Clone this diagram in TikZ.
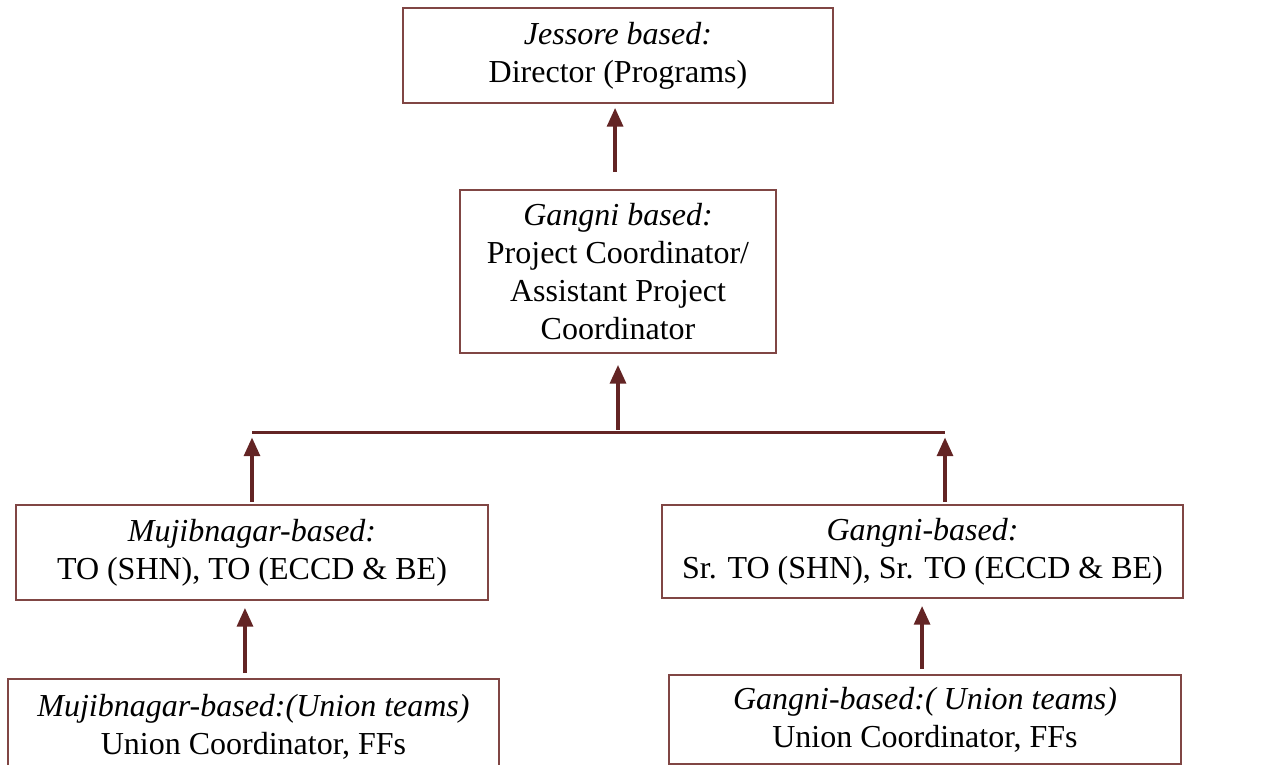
\documentclass[tikz,border=0pt]{standalone}
\usepackage{fontspec}
\setmainfont{Liberation Serif}
\usetikzlibrary{arrows.meta}
\definecolor{OrgFrame}{RGB}{128,70,68}
\definecolor{OrgInk}{RGB}{99,36,36}
\tikzset{
    org/diagram/.style={
        font=\fontsize{12}{14.2}\selectfont,
        line cap=butt,
        every node/.style={inner sep=2pt, outer sep=0pt}
    },
    org/box/.style={draw=OrgFrame, line width=0.6pt, align=center},
    org/link/.style={
        draw=OrgInk, line width=1.2pt,
        -{Triangle[length=7pt, width=6pt]}
    },
    org/bar/.style={draw=OrgInk, line width=0.85pt}
}
\begin{document}
\begin{tikzpicture}[org/diagram, x=0.375pt, y=-0.375pt]
    \useasboundingbox (0,0) rectangle (1262,765);
    \node[org/box, minimum width=161.25pt, minimum height=35.6pt] (dir) at (618,55.5)
        {\textit{Jessore based:}\\Director (Programs)};
    \node[org/box, minimum width=118.5pt, minimum height=61.1pt] (pc) at (618,271.5)
        {\textit{Gangni based:}\\Project Coordinator/\\Assistant Project\\Coordinator};
    \node[org/box, minimum width=177pt, minimum height=35.6pt] (muj) at (252,552.5)
        {\textit{Mujibnagar-based:}\\TO (SHN), TO (ECCD \& BE)};
    \node[org/box, minimum width=195.4pt, minimum height=34.9pt] (gan) at (922.5,551.5)
        {\textit{Gangni-based:}\\Sr. TO (SHN), Sr. TO (ECCD \& BE)};
    \node[org/box, minimum width=184.1pt, minimum height=36pt] (mujU) at (253.5,727)
        {\textit{Mujibnagar-based:(Union teams)}\\Union Coordinator, FFs};
    \node[org/box, minimum width=192pt, minimum height=33.4pt] (ganU) at (925,719.5)
        {\textit{Gangni-based:( Union teams)}\\Union Coordinator, FFs};
    % junction bar
    \coordinate (barL) at (252,432.5);
    \coordinate (barM) at (618,432.5);
    \coordinate (barR) at (945,432.5);
    \draw[org/bar] (barL) -- (barR);
    \draw[org/link, shorten <=18pt*0.375, shorten >=5pt*0.375]
        ([xshift=-1.1pt]pc.north) -- ([xshift=-1.1pt]dir.south);
    \draw[org/link, shorten <=1pt, shorten >=12pt*0.375] (barM) -- (pc.south);
    \draw[org/link, shorten <=3pt*0.375, shorten >=5pt*0.375] (muj.north) -- (barL);
    \draw[org/link, shorten <=3pt*0.375, shorten >=5pt*0.375] (muj.north -| barR) -- (barR);
    \draw[org/link, shorten <=6pt*0.375, shorten >=8pt*0.375]
        ([xshift=-3.2pt]mujU.north) -- ([xshift=-3.2pt]mujU.north |- muj.south);
    \draw[org/link, shorten <=6pt*0.375, shorten >=8pt*0.375]
        ([xshift=-1.1pt]ganU.north) -- ([xshift=-1.1pt]ganU.north |- gan.south);
\end{tikzpicture}
\end{document}
